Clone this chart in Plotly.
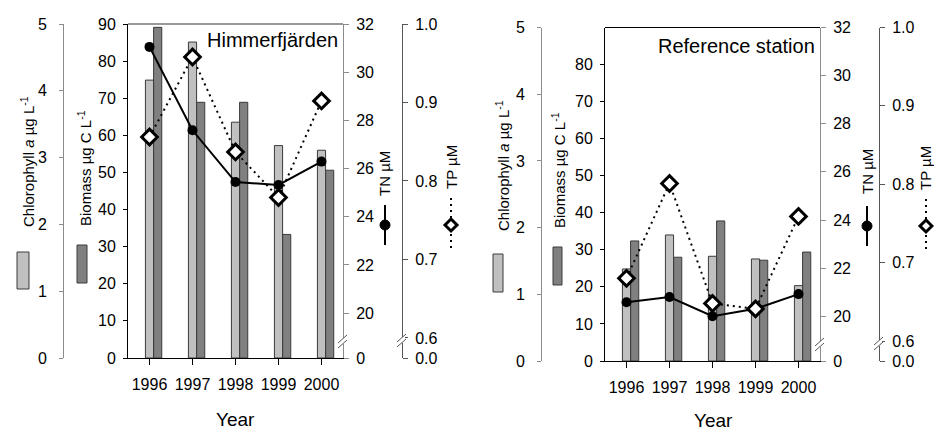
import plotly.graph_objects as go

# ---------------- data ----------------
years = [1996, 1997, 1998, 1999, 2000]
year_labels = ["1996", "1997", "1998", "1999", "2000"]

himm_chl = [4.16, 4.73, 3.53, 3.18, 3.11]          # Chlorophyll a, µg/L
himm_biomass = [89.1, 68.9, 68.9, 33.3, 50.6]      # Biomass, µg C/L
himm_tn = [31.05, 27.59, 25.44, 25.32, 26.29]      # TN, µM
himm_tp = [0.856, 0.958, 0.837, 0.779, 0.902]      # TP, µM

ref_chl = [1.38, 1.89, 1.57, 1.53, 1.13]
ref_biomass = [32.4, 28.0, 37.8, 27.2, 29.4]
ref_tn = [20.58, 20.80, 20.00, 20.31, 20.92]
ref_tp = [0.680, 0.801, 0.648, 0.641, 0.759]

chl_ticks = [0, 1, 2, 3, 4, 5]
bio_ticks_left = [0, 10, 20, 30, 40, 50, 60, 70, 80, 90]
bio_ticks_right = [0, 10, 20, 30, 40, 50, 60, 70, 80]
tn_ticks = [20, 22, 24, 26, 28, 30, 32]
tp_ticks = [0.6, 0.7, 0.8, 0.9, 1.0]
tn_floor = 18.14   # broken axis: bottom labelled "0"
tp_floor = 0.5745  # broken axis: bottom labelled "0.0"

# ---------------- helpers ----------------
W, H = 934, 432
def X(p):
    return p / W
def Y(p):
    return 1 - p / H

FONT = "Arial, Liberation Sans, sans-serif"
LIGHT = "#c0c0c0"
DARK = "#808080"
EDGE = "#3a3a3a"
GREY_AX = "#8c8c8c"

fig = go.Figure()

panels = [
    dict(chl=himm_chl, bio=himm_biomass, tn=himm_tn, tp=himm_tp,
         x="x", ybio="y", ychl="y2", ytn="y3", ytp="y4"),
    dict(chl=ref_chl, bio=ref_biomass, tn=ref_tn, tp=ref_tp,
         x="x2", ybio="y5", ychl="y6", ytn="y7", ytp="y8"),
]

for p in panels:
    fig.add_trace(go.Bar(x=years, y=p["bio"], width=0.19, offset=0.095,
                         marker=dict(color=DARK, line=dict(color=EDGE, width=1)),
                         xaxis=p["x"], yaxis=p["ybio"]))
    fig.add_trace(go.Bar(x=years, y=p["chl"], width=0.19, offset=-0.095,
                         marker=dict(color=LIGHT, line=dict(color=EDGE, width=1)),
                         xaxis=p["x"], yaxis=p["ychl"]))
    fig.add_trace(go.Scatter(x=years, y=p["tn"], mode="lines+markers",
                             line=dict(color="black", width=2),
                             marker=dict(size=10, color="black"),
                             xaxis=p["x"], yaxis=p["ytn"]))
    fig.add_trace(go.Scatter(x=years, y=p["tp"], mode="lines+markers",
                             line=dict(color="black", width=2, dash="2px,4px"),
                             marker=dict(symbol="diamond", size=12, color="white",
                                         line=dict(color="black", width=3)),
                             xaxis=p["x"], yaxis=p["ytp"]))

tickfont = dict(family=FONT, size=16, color="black")
common = dict(showgrid=False, zeroline=False, ticks="outside", ticklen=5,
              tickwidth=1, showline=True, linewidth=1, tickfont=tickfont,
              automargin=False)

xcommon = dict(common, range=[1995.5, 2000.5], tickvals=years, ticktext=year_labels,
               linecolor="black", tickcolor="black", ticklen=6,
               tickfont=dict(family=FONT, size=16, color="black"),
               ticklabelstandoff=6)

left_dom_x = [X(128), X(343)]
left_dom_y = [Y(358), Y(24)]
right_dom_x = [X(605), X(820)]
right_dom_y = [Y(361), Y(27.5)]

fig.update_layout(
    width=W, height=H, margin=dict(l=0, r=0, t=0, b=0, pad=0, autoexpand=False),
    paper_bgcolor="white", plot_bgcolor="white", showlegend=False,
    barmode="overlay",
    font=dict(family=FONT, size=15, color="black"),
    xaxis=dict(xcommon, domain=left_dom_x, anchor="y"),
    xaxis2=dict(xcommon, domain=right_dom_x, anchor="y5"),
    # left panel
    yaxis=dict(common, domain=left_dom_y, anchor="x", range=[0, 90],
               tickvals=bio_ticks_left, linecolor="black", tickcolor="black",
               ticklen=4, ticklabelstandoff=4),
    yaxis2=dict(common, overlaying="y", anchor="free", position=X(63), side="left",
                range=[0, 5], tickvals=chl_ticks, linecolor=GREY_AX, tickcolor=GREY_AX,
                ticklen=4, ticklabelstandoff=9),
    yaxis3=dict(common, overlaying="y", anchor="x", side="right",
                range=[tn_floor, 32], tickvals=[tn_floor] + tn_ticks,
                ticktext=["0"] + [str(v) for v in tn_ticks],
                linecolor=GREY_AX, tickcolor=GREY_AX, ticklabelstandoff=4),
    yaxis4=dict(common, overlaying="y", anchor="free", position=X(402), side="right",
                range=[tp_floor, 1.0], tickvals=[tp_floor] + tp_ticks,
                ticktext=["0.0"] + ["%.1f" % v for v in tp_ticks],
                linecolor="#555555", tickcolor="#555555", ticklabelstandoff=4),
    # right panel
    yaxis5=dict(common, domain=right_dom_y, anchor="x2", range=[0, 90],
                tickvals=bio_ticks_right, linecolor="black", tickcolor="black",
                ticklen=4, ticklabelstandoff=4),
    yaxis6=dict(common, overlaying="y5", anchor="free", position=X(541), side="left",
                range=[0, 5], tickvals=chl_ticks, linecolor=GREY_AX, tickcolor=GREY_AX,
                ticklen=4, ticklabelstandoff=9),
    yaxis7=dict(common, overlaying="y5", anchor="x2", side="right",
                range=[tn_floor, 32], tickvals=[tn_floor] + tn_ticks,
                ticktext=["0"] + [str(v) for v in tn_ticks],
                linecolor=GREY_AX, tickcolor=GREY_AX, ticklabelstandoff=4),
    yaxis8=dict(common, overlaying="y5", anchor="free", position=X(879), side="right",
                range=[tp_floor, 1.0], tickvals=[tp_floor] + tp_ticks,
                ticktext=["0.0"] + ["%.1f" % v for v in tp_ticks],
                linecolor="#555555", tickcolor="#555555", ticklabelstandoff=4),
)

shapes = []
# top frame lines
shapes.append(dict(type="line", xref="x domain", yref="y domain", x0=0, x1=1, y0=1, y1=1,
                   line=dict(color="#999999", width=2)))
shapes.append(dict(type="line", xref="x2 domain", yref="y5 domain", x0=0, x1=1, y0=1, y1=1,
                   line=dict(color="black", width=1)))

def axis_break(cx, cy):
    out = [dict(type="rect", xref="paper", yref="paper",
                x0=X(cx - 3), x1=X(cx + 3), y0=Y(cy + 2), y1=Y(cy - 4),
                fillcolor="white", line=dict(width=0))]
    for dy in (0, 5):
        out.append(dict(type="line", xref="paper", yref="paper",
                        x0=X(cx - 5), y0=Y(cy + dy + 1), x1=X(cx + 4), y1=Y(cy + dy - 7),
                        line=dict(color="#555555", width=1)))
    return out

for cx, cy in [(343, 342), (402, 341), (820, 345), (879, 344)]:
    shapes += axis_break(cx, cy)

def rect_key(x0, x1, y0, y1, color):
    return dict(type="rect", xref="paper", yref="paper", x0=X(x0), x1=X(x1),
                y0=Y(y1), y1=Y(y0), fillcolor=color, line=dict(color=EDGE, width=1))

def tn_key(cx, cy):
    return [dict(type="line", xref="paper", yref="paper", x0=X(cx), x1=X(cx),
                 y0=Y(cy - 20), y1=Y(cy + 20), line=dict(color="black", width=2)),
            dict(type="circle", xref="paper", yref="paper", x0=X(cx - 5), x1=X(cx + 5),
                 y0=Y(cy + 5), y1=Y(cy - 5), fillcolor="black", line=dict(color="black", width=1))]

def tp_key(cx, cy):
    return [dict(type="line", xref="paper", yref="paper", x0=X(cx), x1=X(cx),
                 y0=Y(cy - 27), y1=Y(cy + 27), line=dict(color="black", width=2, dash="2px,4px")),
            dict(type="path", xref="paper", yref="paper", xsizemode="pixel", ysizemode="pixel",
                 xanchor=X(cx), yanchor=Y(cy), path="M 0 6 L 6 0 L 0 -6 L -6 0 Z",
                 fillcolor="white", line=dict(color="black", width=3))]

shapes.append(rect_key(17, 29, 252, 289, LIGHT))
shapes.append(rect_key(77, 87, 245, 283, DARK))
shapes.append(rect_key(493, 503, 254, 292, LIGHT))
shapes.append(rect_key(553, 562, 247, 285, DARK))
shapes += tn_key(385, 225) + tp_key(451, 225)
shapes += tn_key(867, 226) + tp_key(926, 226)
fig.update_layout(shapes=shapes)

ann = []
def rot(text, x, y):
    return dict(text=text, xref="paper", yref="paper", x=X(x), y=Y(y), textangle=-90,
                showarrow=False, xanchor="center", yanchor="middle",
                font=dict(family=FONT, size=15, color="black"))

chl_title = "Chlorophyll <i>a</i> µg L<sup>-1</sup>"
bio_title = "Biomass µg C L<sup>-1</sup>"
ann += [rot(chl_title, 27, 162), rot(bio_title, 85, 168),
        rot("TN µM", 384, 174), rot("TP µM", 451, 167),
        rot(chl_title, 502, 165), rot(bio_title, 558, 170),
        rot("TN µM", 867, 172), rot("TP µM", 926, 168)]

ann.append(dict(text="Himmerfjärden", xref="paper", yref="paper", x=X(340), y=Y(40),
                showarrow=False, xanchor="right", yanchor="middle",
                font=dict(family=FONT, size=20, color="black")))
ann.append(dict(text="Reference station", xref="paper", yref="paper", x=X(817), y=Y(46),
                showarrow=False, xanchor="right", yanchor="middle",
                font=dict(family=FONT, size=20, color="black")))
ann.append(dict(text="Year", xref="paper", yref="paper", x=X(235), y=Y(419),
                showarrow=False, xanchor="center", yanchor="middle",
                font=dict(family=FONT, size=19, color="black")))
ann.append(dict(text="Year", xref="paper", yref="paper", x=X(713), y=Y(420),
                showarrow=False, xanchor="center", yanchor="middle",
                font=dict(family=FONT, size=19, color="black")))
fig.update_layout(annotations=ann)

fig.write_html("out.html",
               config={"displayModeBar": False},
               post_script="document.body.style.margin='0';document.body.style.padding='0';"
                           "document.body.style.overflow='hidden';")
